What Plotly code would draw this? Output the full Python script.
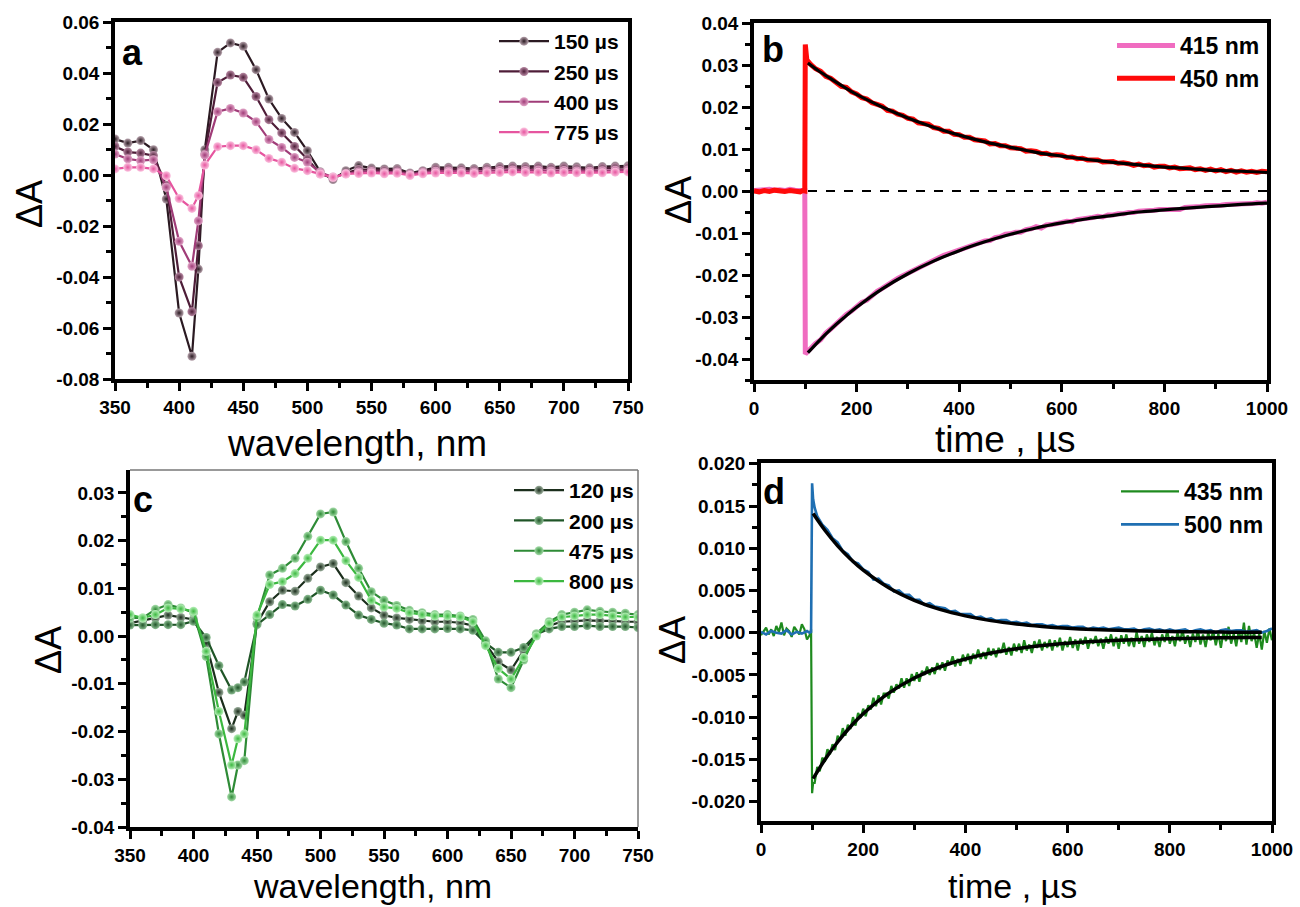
import plotly.graph_objects as go

W, H = 1300, 907
FONT = "Liberation Sans, Arial, sans-serif"


def fx(p):
    return p / W


def fy(p):
    return 1 - p / H


# ---------------- panel a: transient spectra (magenta series) ----------------
wl_a = [350, 360, 370, 380, 390, 400, 410, 415, 420,
        430, 440, 450, 460, 470, 480, 490, 500, 510, 520, 530,
        540, 550, 560, 570, 580, 590, 600, 610, 620, 630, 640,
        650, 660, 670, 680, 690, 700, 710, 720, 730, 740, 750]
a_150us = [0.0141, 0.0125, 0.0135, 0.0099, -0.0094, -0.0541, -0.0711, -0.0369, 0.0099,
           0.0481, 0.0518, 0.0505, 0.0413, 0.0298, 0.0222, 0.0167, 0.0095, 0.0013, -0.0018, 0.0017,
           0.0037, 0.0027, 0.0024, 0.0025, 0.0008, 0.0017, 0.0030, 0.0030, 0.0028, 0.0025, 0.0030,
           0.0033, 0.0035, 0.0033, 0.0035, 0.0030, 0.0035, 0.0032, 0.0028, 0.0033, 0.0035, 0.0036]
a_250us = [0.0112, 0.0090, 0.0086, 0.0076, -0.0040, -0.0400, -0.0536, -0.0277, 0.0082,
           0.0363, 0.0392, 0.0383, 0.0308, 0.0217, 0.0165, 0.0112, 0.0063, 0.0005, -0.0012, 0.0008,
           0.0022, 0.0020, 0.0018, 0.0020, 0.0005, 0.0014, 0.0024, 0.0025, 0.0022, 0.0020, 0.0025,
           0.0028, 0.0030, 0.0027, 0.0030, 0.0026, 0.0028, 0.0025, 0.0024, 0.0027, 0.0029, 0.0030]
a_400us = [0.0082, 0.0063, 0.0056, 0.0060, -0.0048, -0.0260, -0.0358, -0.0180, 0.0078,
           0.0248, 0.0261, 0.0243, 0.0209, 0.0139, 0.0108, 0.0069, 0.0050, 0.0010, -0.0008, 0.0005,
           0.0012, 0.0014, 0.0010, 0.0012, 0.0002, 0.0010, 0.0015, 0.0016, 0.0014, 0.0012, 0.0016,
           0.0018, 0.0020, 0.0018, 0.0020, 0.0016, 0.0018, 0.0016, 0.0015, 0.0017, 0.0019, 0.0020]
a_775us = [0.0024, 0.0030, 0.0030, 0.0024, -0.0003, -0.0092, -0.0131, -0.0081, 0.0039,
           0.0111, 0.0115, 0.0115, 0.0099, 0.0065, 0.0050, 0.0026, 0.0017, 0.0004, -0.0009, 0.0004,
           0.0006, 0.0008, 0.0005, 0.0007, -0.0002, 0.0005, 0.0008, 0.0009, 0.0008, 0.0006, 0.0009,
           0.0010, 0.0012, 0.0010, 0.0011, 0.0008, 0.0010, 0.0009, 0.0008, 0.0009, 0.0011, 0.0012]
labels_a = ["150 µs", "250 µs", "400 µs", "775 µs"]

# ---------------- panel c: transient spectra (green series) ----------------
wl_c = [350, 360, 370, 380, 390, 400, 410, 420, 430, 435,
        440, 450, 460, 470, 480, 490, 500, 510, 520, 530, 540,
        550, 560, 570, 580, 590, 600, 610, 620, 630, 640, 650,
        660, 670, 680, 690, 700, 710, 720, 730, 740, 750]
c_120us = [0.0027, 0.0032, 0.0038, 0.0044, 0.0039, 0.0035, -0.0015, -0.0118, -0.0194, -0.0158,
           -0.0166, 0.0027, 0.0072, 0.0096, 0.0094, 0.0121, 0.0145, 0.0152, 0.0112, 0.0084, 0.0059,
           0.0044, 0.0038, 0.0035, 0.0032, 0.0030, 0.0030, 0.0028, 0.0022, -0.0015, -0.0054, -0.0071,
           -0.0030, 0.0003, 0.0022, 0.0030, 0.0032, 0.0033, 0.0032, 0.0032, 0.0030, 0.0030]
c_200us = [0.0023, 0.0023, 0.0024, 0.0024, 0.0024, 0.0031, -0.0003, -0.0062, -0.0113, -0.0108,
           -0.0096, 0.0024, 0.0045, 0.0066, 0.0063, 0.0077, 0.0096, 0.0086, 0.0065, 0.0044, 0.0035,
           0.0027, 0.0023, 0.0015, 0.0015, 0.0015, 0.0016, 0.0015, 0.0012, -0.0015, -0.0034, -0.0034,
           -0.0024, 0.0004, 0.0015, 0.0020, 0.0020, 0.0022, 0.0020, 0.0020, 0.0020, 0.0018]
c_475us = [0.0038, 0.0038, 0.0056, 0.0066, 0.0059, 0.0049, -0.0043, -0.0205, -0.0337, -0.0270,
           -0.0261, 0.0039, 0.0128, 0.0142, 0.0163, 0.0209, 0.0256, 0.0260, 0.0198, 0.0142, 0.0093,
           0.0075, 0.0064, 0.0054, 0.0049, 0.0045, 0.0045, 0.0042, 0.0035, -0.0010, -0.0090, -0.0108,
           -0.0050, 0.0005, 0.0030, 0.0045, 0.0050, 0.0055, 0.0052, 0.0050, 0.0048, 0.0045]
c_800us = [0.0045, 0.0038, 0.0045, 0.0059, 0.0057, 0.0052, -0.0032, -0.0158, -0.0270, -0.0215,
           -0.0205, 0.0044, 0.0108, 0.0114, 0.0131, 0.0163, 0.0201, 0.0201, 0.0158, 0.0123, 0.0075,
           0.0061, 0.0058, 0.0049, 0.0045, 0.0042, 0.0042, 0.0040, 0.0030, -0.0020, -0.0068, -0.0090,
           -0.0045, 0.0000, 0.0027, 0.0040, 0.0042, 0.0045, 0.0045, 0.0042, 0.0040, 0.0040]
labels_c = ["120 µs", "200 µs", "475 µs", "800 µs"]

# ---------------- panel b: kinetics at 415 / 450 nm ----------------
t_b = [0, 10, 20, 30, 40, 50, 60, 70, 80, 90, 95, 99, 100, 103,
       110, 120, 130, 140, 150, 160, 170, 180, 190, 200,
       210, 220, 230, 240, 250, 260, 270, 280, 290, 300,
       310, 320, 330, 340, 350, 360, 370, 380, 390, 400,
       410, 420, 430, 440, 450, 460, 470, 480, 490, 500,
       510, 520, 530, 540, 550, 560, 570, 580, 590, 600,
       610, 620, 630, 640, 650, 660, 670, 680, 690, 700,
       710, 720, 730, 740, 750, 760, 770, 780, 790, 800,
       810, 820, 830, 840, 850, 860, 870, 880, 890, 900,
       910, 920, 930, 940, 950, 960, 970, 980, 990, 1000]
b_415nm = [0.0001, 0.0003, 0.0002, 0.0004, 0.0002, 0.0003, 0.0001, 0.0004, 0.0002, 0.0003,
           0.0002, 0.0001, -0.0388, -0.0384,
           -0.0377, -0.0363, -0.0354, -0.0338, -0.0328, -0.0316, -0.0308, -0.0294, -0.0286, -0.0275,
           -0.0265, -0.0260, -0.0248, -0.0239, -0.0232, -0.0223, -0.0217, -0.0208, -0.0202, -0.0196,
           -0.0188, -0.0182, -0.0177, -0.0169, -0.0165, -0.0160, -0.0153, -0.0149, -0.0145, -0.0139,
           -0.0136, -0.0131, -0.0126, -0.0123, -0.0119, -0.0118, -0.0111, -0.0109, -0.0103, -0.0102,
           -0.0098, -0.0098, -0.0092, -0.0090, -0.0085, -0.0088, -0.0081, -0.0080, -0.0076, -0.0075,
           -0.0072, -0.0073, -0.0068, -0.0067, -0.0064, -0.0063, -0.0060, -0.0062, -0.0057, -0.0057,
           -0.0054, -0.0054, -0.0051, -0.0051, -0.0048, -0.0048, -0.0046, -0.0046, -0.0044, -0.0044,
           -0.0042, -0.0042, -0.0044, -0.0039, -0.0039, -0.0037, -0.0037, -0.0035, -0.0035, -0.0034,
           -0.0034, -0.0032, -0.0032, -0.0031, -0.0031, -0.0030, -0.0030, -0.0028, -0.0029, -0.0027]
b_450nm = [0.0000, -0.0002, 0.0001, -0.0001, 0.0002, 0.0000, -0.0001, 0.0001, 0.0000, -0.0002,
           0.0001, 0.0000, 0.0349, 0.0312,
           0.0302, 0.0291, 0.0285, 0.0273, 0.0268, 0.0259, 0.0249, 0.0247, 0.0236, 0.0231,
           0.0222, 0.0219, 0.0210, 0.0206, 0.0202, 0.0192, 0.0190, 0.0183, 0.0180, 0.0173,
           0.0171, 0.0162, 0.0161, 0.0159, 0.0151, 0.0149, 0.0142, 0.0142, 0.0135, 0.0134,
           0.0128, 0.0128, 0.0122, 0.0121, 0.0119, 0.0112, 0.0113, 0.0108, 0.0108, 0.0103,
           0.0102, 0.0101, 0.0095, 0.0096, 0.0094, 0.0089, 0.0090, 0.0085, 0.0086, 0.0085,
           0.0080, 0.0081, 0.0077, 0.0078, 0.0074, 0.0074, 0.0074, 0.0069, 0.0070, 0.0070,
           0.0066, 0.0067, 0.0065, 0.0061, 0.0064, 0.0060, 0.0062, 0.0057, 0.0059, 0.0059,
           0.0055, 0.0057, 0.0053, 0.0055, 0.0055, 0.0051, 0.0053, 0.0049, 0.0052, 0.0048,
           0.0051, 0.0046, 0.0049, 0.0045, 0.0048, 0.0045, 0.0047, 0.0044, 0.0047, 0.0046]
t_b_fit = [105, 125, 150, 175, 200, 250, 300, 350, 400, 450, 500,
           550, 600, 650, 700, 750, 800, 850, 900, 950, 1000]
b_415nm_fit = [-0.0385, -0.0359, -0.0329, -0.0302, -0.0277, -0.0233, -0.0197, -0.0167, -0.0142, -0.0121, -0.0103,
               -0.0088, -0.0076, -0.0066, -0.0058, -0.0050, -0.0045, -0.0040, -0.0036, -0.0032, -0.0029]
b_450nm_fit = [0.0305, 0.0287, 0.0267, 0.0248, 0.0230, 0.0200, 0.0174, 0.0152, 0.0133, 0.0117, 0.0104,
               0.0092, 0.0083, 0.0075, 0.0068, 0.0062, 0.0057, 0.0053, 0.0049, 0.0047, 0.0044]

# ---------------- panel d: kinetics at 435 / 500 nm ----------------
t_d_435 = [0, 5, 10, 15, 20, 25, 30, 35, 40, 45, 50, 55, 60, 65, 70, 75, 80, 85, 90, 95, 98, 100, 102,
           105, 110, 115, 120, 125, 130, 135, 140, 145, 150, 155, 160, 165, 170, 175, 180, 185, 190, 195, 200,
           205, 210, 215, 220, 225, 230, 235, 240, 245, 250, 255, 260, 265, 270, 275, 280, 285, 290, 295, 300,
           305, 310, 315, 320, 325, 330, 335, 340, 345, 350, 355, 360, 365, 370, 375, 380, 385, 390, 395, 400,
           405, 410, 415, 420, 425, 430, 435, 440, 445, 450, 455, 460, 465, 470, 475, 480, 485, 490, 495, 500,
           505, 510, 515, 520, 525, 530, 535, 540, 545, 550, 555, 560, 565, 570, 575, 580, 585, 590, 595, 600,
           605, 610, 615, 620, 625, 630, 635, 640, 645, 650, 655, 660, 665, 670, 675, 680, 685, 690, 695, 700,
           705, 710, 715, 720, 725, 730, 735, 740, 745, 750, 755, 760, 765, 770, 775, 780, 785, 790, 795, 800,
           805, 810, 815, 820, 825, 830, 835, 840, 845, 850, 855, 860, 865, 870, 875, 880, 885, 890, 895, 900,
           905, 910, 915, 920, 925, 930, 935, 940, 945, 950, 955, 960, 965, 970, 975, 980, 985, 990, 995, 1000]
d_435nm = [-0.0003, 0.0002, 0.0006, -0.0002, 0.0004, -0.0004, 0.0008, 0.0001, 0.0012, -0.0003,
           0.0005, 0.0002, -0.0005, 0.0007, 0.0003, -0.0002, 0.0010, 0.0004, -0.0008, -0.0003,
           0.0004, -0.0190, -0.0178,
           -0.0178, -0.0159, -0.0164, -0.0148, -0.0153, -0.0138, -0.0144, -0.0132, -0.0139, -0.0122,
           -0.0127, -0.0113, -0.0122, -0.0109, -0.0114, -0.0100, -0.0110, -0.0095, -0.0101, -0.0090,
           -0.0099, -0.0086, -0.0091, -0.0077, -0.0087, -0.0074, -0.0085, -0.0072, -0.0072, -0.0078,
           -0.0063, -0.0071, -0.0061, -0.0066, -0.0054, -0.0065, -0.0054, -0.0063, -0.0049, -0.0057,
           -0.0047, -0.0058, -0.0045, -0.0050, -0.0040, -0.0050, -0.0041, -0.0049, -0.0036, -0.0044,
           -0.0035, -0.0045, -0.0033, -0.0038, -0.0028, -0.0040, -0.0031, -0.0039, -0.0026, -0.0034,
           -0.0025, -0.0037, -0.0025, -0.0031, -0.0020, -0.0031, -0.0023, -0.0031, -0.0018, -0.0027,
           -0.0019, -0.0029, -0.0018, -0.0024, -0.0012, -0.0026, -0.0017, -0.0027, -0.0013, -0.0022,
           -0.0013, -0.0024, -0.0009, -0.0021, -0.0014, -0.0024, -0.0010, -0.0018, -0.0008, -0.0021,
           -0.0011, -0.0018, -0.0008, -0.0021, -0.0009, -0.0017, -0.0006, -0.0021, -0.0010, -0.0017,
           -0.0005, -0.0018, -0.0008, -0.0021, -0.0007, -0.0014, -0.0005, -0.0019, -0.0007, -0.0013,
           -0.0004, -0.0016, -0.0007, -0.0019, -0.0005, -0.0013, -0.0002, -0.0016, -0.0005, -0.0019,
           -0.0003, -0.0013, -0.0002, -0.0016, -0.0006, -0.0017, 0.0001, -0.0013, -0.0004, -0.0017,
           -0.0002, -0.0011, 0.0000, -0.0015, -0.0005, -0.0017, -0.0002, -0.0011, 0.0002, -0.0013,
           -0.0004, -0.0016, 0.0000, -0.0010, 0.0003, -0.0013, -0.0003, -0.0017, -0.0001, -0.0011,
           0.0003, -0.0014, -0.0002, -0.0017, 0.0000, -0.0009, 0.0002, -0.0015, -0.0001, -0.0018,
           0.0001, -0.0010, 0.0007, -0.0013, -0.0001, -0.0016, 0.0003, -0.0011, 0.0012, -0.0014,
           0.0008, -0.0010, 0.0000, -0.0018, -0.0001, -0.0020, 0.0002, -0.0012, 0.0005, -0.0009]
t_d_500 = [0, 10, 20, 30, 40, 50, 60, 70, 80, 90, 95, 98, 100, 102, 105,
           110, 120, 130, 140, 150, 160, 170, 180, 190, 200,
           210, 220, 230, 240, 250, 260, 270, 280, 290, 300,
           310, 320, 330, 340, 350, 360, 370, 380, 390, 400,
           410, 420, 430, 440, 450, 460, 470, 480, 490, 500,
           510, 520, 530, 540, 550, 560, 570, 580, 590, 600,
           610, 620, 630, 640, 650, 660, 670, 680, 690, 700,
           710, 720, 730, 740, 750, 760, 770, 780, 790, 800,
           810, 820, 830, 840, 850, 860, 870, 880, 890, 900,
           910, 920, 930, 940, 950, 960, 970, 980, 990, 1000]
d_500nm = [0.0001, -0.0002, 0.0002, 0.0000, -0.0001, 0.0003, -0.0002, 0.0001, -0.0001, 0.0002,
           0.0000, 0.0001, 0.0177, 0.0158, 0.0148,
           0.0138, 0.0128, 0.0122, 0.0112, 0.0107, 0.0097, 0.0093, 0.0084, 0.0082, 0.0075,
           0.0072, 0.0063, 0.0064, 0.0058, 0.0056, 0.0049, 0.0050, 0.0045, 0.0045, 0.0039,
           0.0039, 0.0033, 0.0035, 0.0031, 0.0030, 0.0029, 0.0025, 0.0026, 0.0022, 0.0022,
           0.0022, 0.0018, 0.0019, 0.0016, 0.0017, 0.0014, 0.0015, 0.0015, 0.0012, 0.0013,
           0.0011, 0.0012, 0.0009, 0.0010, 0.0010, 0.0008, 0.0009, 0.0007, 0.0008, 0.0008,
           0.0006, 0.0007, 0.0007, 0.0004, 0.0006, 0.0005, 0.0006, 0.0004, 0.0005, 0.0006,
           0.0004, 0.0004, 0.0005, 0.0002, 0.0004, 0.0005, 0.0003, 0.0004, 0.0002, 0.0004,
           0.0002, 0.0003, 0.0004, 0.0001, 0.0003, 0.0004, 0.0002, 0.0003, 0.0000, 0.0003,
           0.0004, 0.0002, 0.0003, 0.0003, 0.0001, 0.0002, 0.0003, 0.0000, 0.0002, 0.0005]
t_d_fit = [102, 125, 150, 175, 200, 250, 300, 350, 400, 450, 500,
           550, 600, 650, 700, 750, 800, 850, 900, 950, 980]
d_435nm_fit = [-0.01729, -0.01504, -0.01294, -0.01114, -0.00960, -0.00716, -0.00537, -0.00406, -0.00311, -0.00241,
               -0.00190, -0.00152, -0.00125, -0.00105, -0.00090, -0.00079, -0.00071, -0.00066, -0.00061, -0.00058,
               -0.00057]
d_500nm_fit = [0.01411, 0.01213, 0.01029, 0.00873, 0.00741, 0.00533, 0.00384, 0.00276, 0.00199, 0.00143,
               0.00103, 0.00074, 0.00053, 0.00038, 0.00028, 0.00020, 0.00014, 0.00010, 0.00007, 0.00005,
               0.00004]

# ---------------- tick labels ----------------
wl_ticks = [350, 400, 450, 500, 550, 600, 650, 700, 750]
wl_ticktext = ["350", "400", "450", "500", "550", "600", "650", "700", "750"]
time_ticks = [0, 200, 400, 600, 800, 1000]
time_ticktext = ["0", "200", "400", "600", "800", "1000"]
ya_ticks = [-0.08, -0.06, -0.04, -0.02, 0.0, 0.02, 0.04, 0.06]
ya_ticktext = ["-0.08", "-0.06", "-0.04", "-0.02", "0.00", "0.02", "0.04", "0.06"]
yb_ticks = [-0.04, -0.03, -0.02, -0.01, 0.0, 0.01, 0.02, 0.03, 0.04]
yb_ticktext = ["-0.04", "-0.03", "-0.02", "-0.01", "0.00", "0.01", "0.02", "0.03", "0.04"]
yc_ticks = [-0.04, -0.03, -0.02, -0.01, 0.0, 0.01, 0.02, 0.03]
yc_ticktext = ["-0.04", "-0.03", "-0.02", "-0.01", "0.00", "0.01", "0.02", "0.03"]
yd_ticks = [-0.020, -0.015, -0.010, -0.005, 0.0, 0.005, 0.010, 0.015, 0.020]
yd_ticktext = ["-0.020", "-0.015", "-0.010", "-0.005", "0.000", "0.005", "0.010", "0.015", "0.020"]

# ---------------- styling ----------------
colors_a = ["#2b1a22", "#4e1d38", "#a03c78", "#e6559f"]
centers_a = ["#b8a4ae", "#b88aa4", "#e2a6c8", "#fbc4e0"]
colors_c = ["#1b2e1c", "#1f5527", "#2e8b36", "#3cb840"]
centers_c = ["#9db09e", "#8fbf95", "#a6dcaa", "#b8f0ba"]

fig = go.Figure()

for ys, name, col, cen in zip([a_150us, a_250us, a_400us, a_775us], labels_a, colors_a, centers_a):
    fig.add_trace(go.Scatter(
        x=wl_a, y=ys, name=name, mode="lines+markers", xaxis="x", yaxis="y",
        line=dict(color=col, width=2.2),
        marker=dict(size=9, color=cen, gradient=dict(type="radial", color=col), line=dict(width=0)),
        legend="legend"))

for ys, name, col, cen in zip([c_120us, c_200us, c_475us, c_800us], labels_c, colors_c, centers_c):
    fig.add_trace(go.Scatter(
        x=wl_c, y=ys, name=name, mode="lines+markers", xaxis="x3", yaxis="y3",
        line=dict(color=col, width=2.2),
        marker=dict(size=9, color=cen, gradient=dict(type="radial", color=col), line=dict(width=0)),
        legend="legend3"))

fig.add_trace(go.Scatter(x=t_b, y=b_415nm, name="415 nm", mode="lines", xaxis="x2", yaxis="y2",
                         line=dict(color="#f06cc0", width=5), legend="legend2"))
fig.add_trace(go.Scatter(x=t_b, y=b_450nm, name="450 nm", mode="lines", xaxis="x2", yaxis="y2",
                         line=dict(color="#ff0a0a", width=5), legend="legend2"))
for ys in (b_415nm_fit, b_450nm_fit):
    fig.add_trace(go.Scatter(x=t_b_fit, y=ys, mode="lines", xaxis="x2", yaxis="y2", showlegend=False,
                             line=dict(color="black", width=3.2, shape="spline")))

fig.add_trace(go.Scatter(x=t_d_435, y=d_435nm, name="435 nm", mode="lines", xaxis="x4", yaxis="y4",
                         line=dict(color="#1e8a1e", width=2.2), legend="legend4"))
fig.add_trace(go.Scatter(x=t_d_500, y=d_500nm, name="500 nm", mode="lines", xaxis="x4", yaxis="y4",
                         line=dict(color="#1f6fb2", width=2.6), legend="legend4"))
for ys in (d_435nm_fit, d_500nm_fit):
    fig.add_trace(go.Scatter(x=t_d_fit, y=ys, mode="lines", xaxis="x4", yaxis="y4", showlegend=False,
                             line=dict(color="black", width=3.5, shape="spline")))


def axis(domain, rng, tickvals, ticktext, minor_tick0, minor_dtick, anchor, mirror=True):
    return dict(
        domain=domain, range=rng, anchor=anchor, tickmode="array",
        tickvals=tickvals, ticktext=ticktext,
        ticks="outside", ticklen=8, tickwidth=3, tickcolor="black",
        showline=True, linewidth=3.5, linecolor="black", mirror=mirror,
        showgrid=False, zeroline=False, automargin=False,
        tickfont=dict(family=FONT, size=19, color="black", weight="bold"),
        minor=dict(ticks="outside", ticklen=5, tickwidth=2.5, tickcolor="black",
                   tick0=minor_tick0, dtick=minor_dtick, showgrid=False),
    )


fig.update_layout(
    width=W, height=H, autosize=False,
    margin=dict(l=0, r=0, t=0, b=0, pad=0, autoexpand=False),
    paper_bgcolor="white", plot_bgcolor="white",
    xaxis=axis([fx(115), fx(628)], [350, 750], wl_ticks, wl_ticktext, 350, 25, "y"),
    yaxis=axis([fy(379), fy(22)], [-0.08, 0.06], ya_ticks, ya_ticktext, 0, 0.01, "x"),
    xaxis2=axis([fx(754), fx(1267)], [0, 1000], time_ticks, time_ticktext, 0, 100, "y2"),
    yaxis2=axis([fy(380), fy(23)], [-0.045, 0.04], yb_ticks, yb_ticktext, 0, 0.005, "x2"),
    xaxis3=axis([fx(130), fx(638)], [350, 750], wl_ticks, wl_ticktext, 350, 25, "y3", mirror=False),
    yaxis3=axis([fy(827), fy(470)], [-0.04, 0.0348], yc_ticks, yc_ticktext, 0, 0.005, "x3", mirror=False),
    xaxis4=axis([fx(761), fx(1272)], [0, 1000], time_ticks, time_ticktext, 0, 100, "y4"),
    yaxis4=axis([fy(821), fy(463)], [-0.0223, 0.0201], yd_ticks, yd_ticktext, 0, 0.0025, "x4"),
    showlegend=True,
)

legend_common = dict(xanchor="right", yanchor="top", bgcolor="rgba(0,0,0,0)", borderwidth=0,
                     tracegroupgap=0, traceorder="normal")
fig.update_layout(
    legend=dict(x=fx(624), y=fy(21), itemwidth=50,
                font=dict(family=FONT, size=21, color="black", weight="bold"), **legend_common),
    legend3=dict(x=fx(639), y=fy(470), itemwidth=50,
                 font=dict(family=FONT, size=21, color="black", weight="bold"), **legend_common),
    legend2=dict(x=fx(1265), y=fy(24), itemwidth=58,
                 font=dict(family=FONT, size=23, color="black", weight="bold"), **legend_common),
    legend4=dict(x=fx(1269), y=fy(470), itemwidth=58,
                 font=dict(family=FONT, size=23, color="black", weight="bold"), **legend_common),
)

# zero reference line and the thin frame edges of panel c
fig.add_shape(type="line", xref="x2", yref="y2", x0=0, x1=1000, y0=0, y1=0,
              line=dict(color="black", width=2, dash="dash"), layer="below")
fig.add_shape(type="line", xref="x3 domain", yref="y3 domain", x0=0, x1=1, y0=1, y1=1,
              line=dict(color="#777777", width=1.5))
fig.add_shape(type="line", xref="x3 domain", yref="y3 domain", x0=1, x1=1, y0=0, y1=1,
              line=dict(color="#777777", width=1.5))

title_font = dict(family=FONT, size=37, color="black")
bottom_title_font = dict(family=FONT, size=34, color="black")
ylab_font = dict(family=FONT, size=36, color="black")
letter_font = dict(family=FONT, size=36, color="black", weight="bold")
annotations = [
    # panel letters
    dict(text="a", x=fx(132), y=fy(52), font=letter_font),
    dict(text="b", x=fx(773), y=fy(50), font=letter_font),
    dict(text="c", x=fx(143), y=fy(499), font=letter_font),
    dict(text="d", x=fx(774), y=fy(491), font=letter_font),
    # axis titles
    dict(text="wavelength, nm", x=fx(357), y=fy(444), font=title_font),
    dict(text="wavelength, nm", x=fx(372), y=fy(886), font=bottom_title_font),
    dict(text="time , µs", x=fx(1005), y=fy(440), font=title_font),
    dict(text="time , µs", x=fx(1012), y=fy(886), font=bottom_title_font),
    dict(text="ΔA", x=fx(29), y=fy(204), font=ylab_font, textangle=-90),
    dict(text="ΔA", x=fx(48), y=fy(650), font=ylab_font, textangle=-90),
    dict(text="ΔA", x=fx(678), y=fy(200), font=ylab_font, textangle=-90),
    dict(text="ΔA", x=fx(672), y=fy(640), font=ylab_font, textangle=-90),
]
for ann in annotations:
    ann.update(xref="paper", yref="paper", showarrow=False, xanchor="center", yanchor="middle")
fig.update_layout(annotations=annotations)

fig.write_html("out.html", post_script="document.body.style.margin='0';")
